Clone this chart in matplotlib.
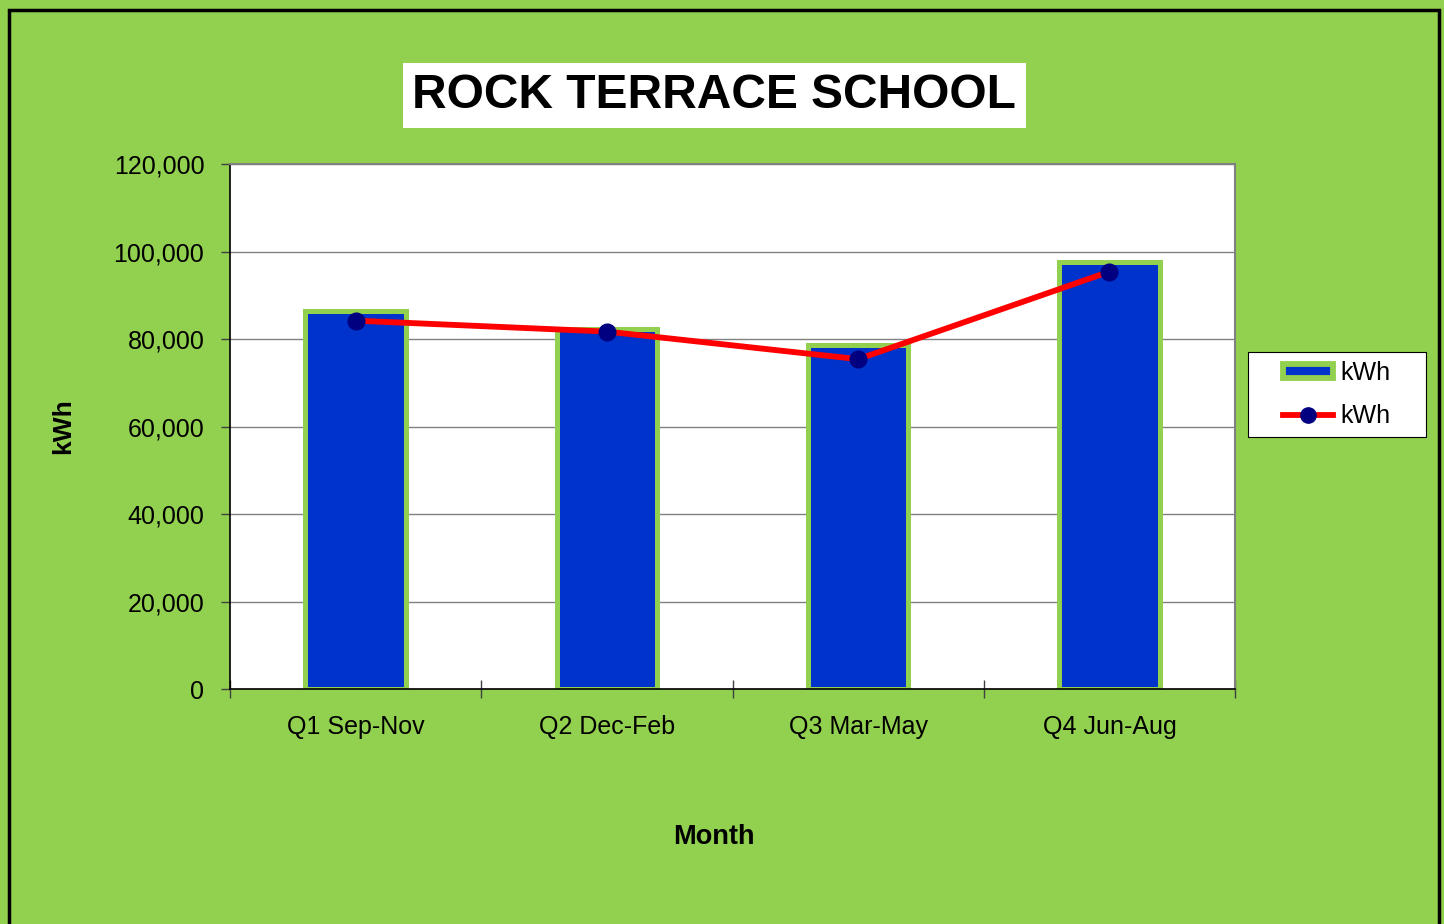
import matplotlib.pyplot as plt
from matplotlib.lines import Line2D
from matplotlib.patches import Rectangle
from matplotlib.ticker import FuncFormatter, FixedLocator
import numpy as np

# Data
quarters = ['Q1 Sep-Nov', 'Q2 Dec-Feb', 'Q3 Mar-May', 'Q4 Jun-Aug']
bar_kwh = [86400, 82400, 78600, 97600]
line_kwh = [84200, 81700, 75400, 95400]

green = '#92D050'
blue = '#0033CC'
navy = '#000080'
plt.rcParams['font.family'] = ['Liberation Sans', 'DejaVu Sans']

W, H = 1444, 924
fig = plt.figure(figsize=(W / 100, H / 100), dpi=100)
fig.patch.set_facecolor(green)
ax = fig.add_axes([0.1593, 0.2543, 0.696, 0.5682])
ax.set_facecolor('white')

x = np.arange(len(quarters))
ax.bar(x, bar_kwh, width=0.4, color=blue, edgecolor=green, linewidth=3.6, zorder=2)
ax.plot(x, line_kwh, color='red', linewidth=4.2, marker='o', markersize=12,
        markerfacecolor=navy, markeredgecolor=navy, zorder=3)

ax.set_xlim(-0.5, len(quarters) - 0.5)
ax.set_ylim(0, 120000)
ax.set_yticks(np.arange(0, 120001, 20000))
ax.yaxis.set_major_formatter(FuncFormatter(lambda v, p: f'{int(v):,}'))
ax.grid(axis='y', color='#808080', linewidth=1, zorder=0)
ax.set_axisbelow(True)

ax.set_xticks(x)
ax.set_xticklabels(quarters, fontsize=18)
ax.xaxis.set_minor_locator(FixedLocator(np.arange(-0.5, len(quarters), 1.0)))
ax.tick_params(axis='x', which='major', length=0, pad=19)
ax.tick_params(axis='x', which='minor', direction='inout', length=13, width=1, color='#404040')
ax.tick_params(axis='y', direction='out', length=6.5, width=1, color='#404040',
               pad=12, labelsize=18)

for s in ['left', 'bottom']:
    ax.spines[s].set_color('black')
    ax.spines[s].set_linewidth(1.2)
for s in ['top', 'right']:
    ax.spines[s].set_color('#808080')
    ax.spines[s].set_linewidth(1.5)

ax.set_ylabel('kWh', fontsize=19, fontweight='bold')
ax.yaxis.set_label_coords(-0.154, 0.5)
ax.set_xlabel('Month', fontsize=19.5, fontweight='bold')
ax.xaxis.set_label_coords(0.481, -0.257)

fig.text(0.4945, 0.8966, 'ROCK TERRACE SCHOOL', ha='center', va='center',
         fontsize=34.5, fontweight='bold', color='black',
         bbox=dict(facecolor='white', edgecolor='none', pad=7))

# legend: frame drawn separately so the horizontal padding can be wider
fig.add_artist(Rectangle((1248 / W, 1 - 437 / H), 178 / W, 85 / H,
                         transform=fig.transFigure, facecolor='white',
                         edgecolor='black', linewidth=0.8, zorder=1))
bar_handle = Rectangle((0, 0), 1, 1, facecolor=blue, edgecolor=green, linewidth=4.2)
line_handle = Line2D([], [], color='red', linewidth=4.2, marker='o', markersize=11,
                     markerfacecolor=navy, markeredgecolor=navy)
leg = fig.legend([bar_handle, line_handle], ['kWh', 'kWh'],
                 loc='center', bbox_to_anchor=(1337 / W, 1 - 394.5 / H),
                 fontsize=18, frameon=False, handlelength=2.0, handleheight=0.5,
                 handletextpad=0.3, borderpad=0.2, labelspacing=0.75,
                 borderaxespad=0)
leg.set_zorder(2)

fig.add_artist(Rectangle((8.5 / W, -0.05), 1430 / W, 1 - 9.5 / H + 0.05,
                         transform=fig.transFigure, fill=False, edgecolor='black',
                         linewidth=2.5, clip_on=False))

fig.savefig('out.png', dpi=100, facecolor=fig.get_facecolor())
